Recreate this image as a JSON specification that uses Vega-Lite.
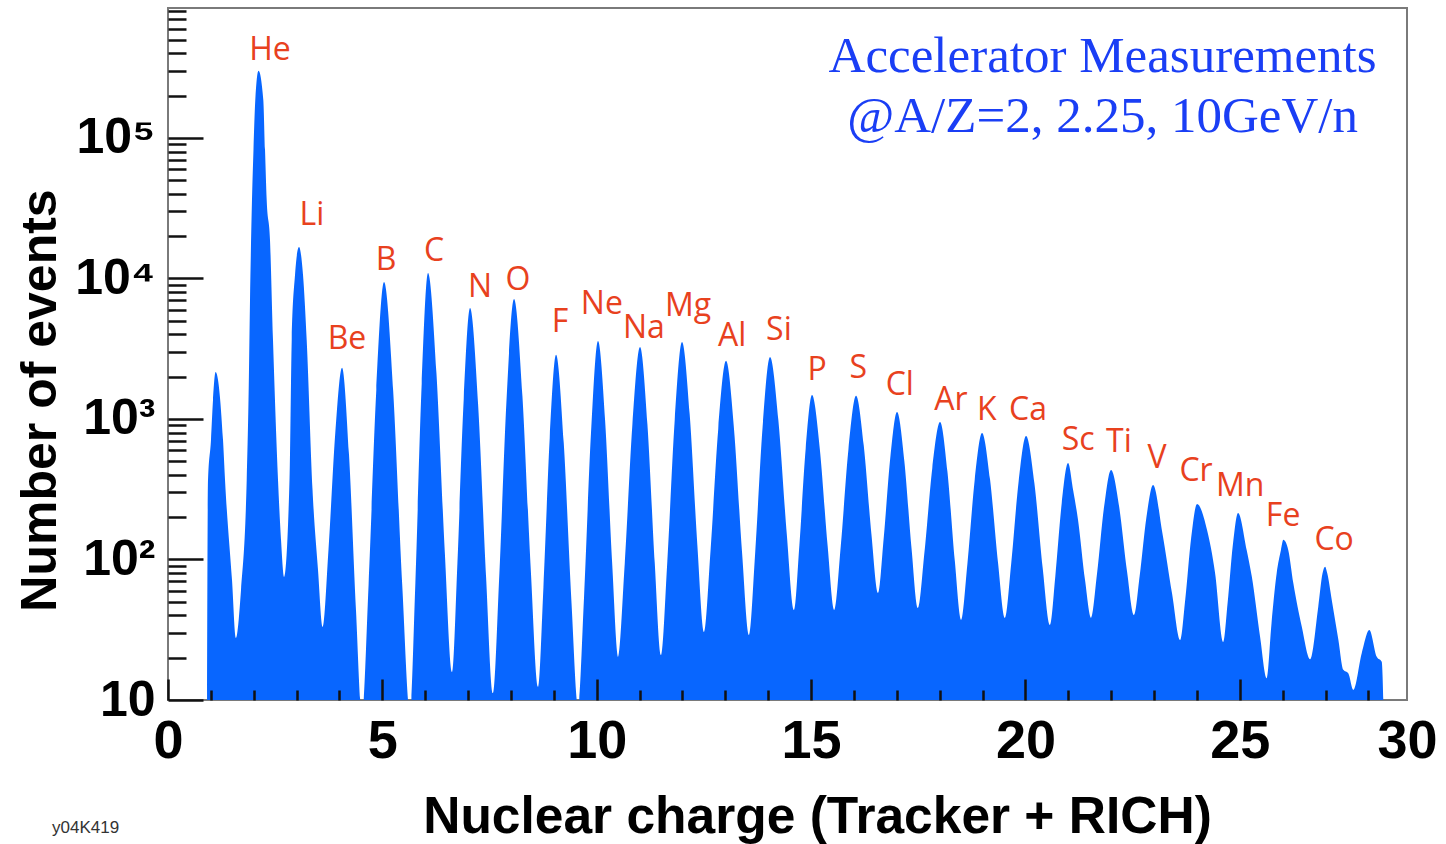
{
  "$schema": "https://vega.github.io/schema/vega-lite/v6.json",
  "width": 1239,
  "height": 692,
  "autosize": {"type": "none"},
  "padding": {"left": 168, "top": 8, "right": 39, "bottom": 144},
  "background": "white",
  "config": {"view": {"stroke": "#7a7a7a", "strokeWidth": 2}},
  "title": {"text": "y04K419", "orient": "bottom", "anchor": "start", "frame": "group", "font": "Liberation Sans", "fontSize": 17, "fontWeight": "normal", "color": "#333333", "dx": -116, "offset": -10, "baseline": "alphabetic"},
  "datasets": {
    "spectrum": [
      {"z": 0.905, "n": 2}, {"z": 0.933, "n": 368}, {"z": 1.003, "n": 710}, {"z": 1.05, "n": 1365}, {"z": 1.11, "n": 2160},
      {"z": 1.283, "n": 710}, {"z": 1.33, "n": 368}, {"z": 1.493, "n": 71.4}, {"z": 1.586, "n": 27.6},
      {"z": 1.703, "n": 60.7}, {"z": 1.836, "n": 368}, {"z": 1.878, "n": 1365}, {"z": 1.913, "n": 7030}, {"z": 1.959, "n": 36200},
      {"z": 1.994, "n": 82200}, {"z": 2.036, "n": 186000}, {"z": 2.111, "n": 300000}, {"z": 2.223, "n": 186000}, {"z": 2.263, "n": 82200},
      {"z": 2.302, "n": 36200}, {"z": 2.379, "n": 18800}, {"z": 2.449, "n": 3650}, {"z": 2.566, "n": 368}, {"z": 2.636, "n": 138}, {"z": 2.706, "n": 75},
      {"z": 2.834, "n": 368}, {"z": 2.886, "n": 3650}, {"z": 2.963, "n": 10600}, {"z": 3.056, "n": 16750}, {"z": 3.149, "n": 10600},
      {"z": 3.235, "n": 3650}, {"z": 3.371, "n": 313}, {"z": 3.499, "n": 84.2}, {"z": 3.609, "n": 33.1},
      {"z": 3.744, "n": 118}, {"z": 3.902, "n": 798}, {"z": 4.059, "n": 2310}, {"z": 4.222, "n": 558}, {"z": 4.385, "n": 43.5}, {"z": 4.525, "n": 7.9},
      {"z": 4.679, "n": 66.4}, {"z": 4.859, "n": 1607}, {"z": 5.039, "n": 9440}, {"z": 5.251, "n": 1607}, {"z": 5.463, "n": 66.4}, {"z": 5.645, "n": 7.9},
      {"z": 5.771, "n": 69.5}, {"z": 5.918, "n": 1795}, {"z": 6.065, "n": 10940}, {"z": 6.261, "n": 2133}, {"z": 6.457, "n": 112}, {"z": 6.625, "n": 15.8},
      {"z": 6.751, "n": 94.6}, {"z": 6.898, "n": 1387}, {"z": 7.045, "n": 6170}, {"z": 7.233, "n": 1274}, {"z": 7.42, "n": 74.5}, {"z": 7.581, "n": 11.2},
      {"z": 7.728, "n": 77.8}, {"z": 7.899, "n": 1422}, {"z": 8.071, "n": 7140}, {"z": 8.267, "n": 1459}, {"z": 8.463, "n": 83.4}, {"z": 8.631, "n": 12.4},
      {"z": 8.757, "n": 63.4}, {"z": 8.904, "n": 733}, {"z": 9.051, "n": 2860}, {"z": 9.231, "n": 675}, {"z": 9.41, "n": 50.4}, {"z": 9.564, "n": 8.9},
      {"z": 9.704, "n": 53.8}, {"z": 9.867, "n": 802}, {"z": 10.03, "n": 3590}, {"z": 10.195, "n": 984}, {"z": 10.359, "n": 95.7}, {"z": 10.5, "n": 20.2},
      {"z": 10.653, "n": 92.9}, {"z": 10.832, "n": 912}, {"z": 11.01, "n": 3250}, {"z": 11.182, "n": 920}, {"z": 11.353, "n": 95.1}, {"z": 11.5, "n": 20.9},
      {"z": 11.647, "n": 97.3}, {"z": 11.819, "n": 979}, {"z": 11.99, "n": 3530}, {"z": 12.169, "n": 1076}, {"z": 12.347, "n": 127}, {"z": 12.5, "n": 30.5},
      {"z": 12.655, "n": 116}, {"z": 12.835, "n": 853}, {"z": 13.016, "n": 2590}, {"z": 13.203, "n": 841}, {"z": 13.39, "n": 112}, {"z": 13.55, "n": 29},
      {"z": 13.698, "n": 114}, {"z": 13.87, "n": 883}, {"z": 14.042, "n": 2760}, {"z": 14.237, "n": 979}, {"z": 14.433, "n": 152}, {"z": 14.6, "n": 43.7},
      {"z": 14.727, "n": 126}, {"z": 14.874, "n": 614}, {"z": 15.022, "n": 1480}, {"z": 15.203, "n": 614}, {"z": 15.385, "n": 126}, {"z": 15.54, "n": 43.7},
      {"z": 15.693, "n": 125}, {"z": 15.871, "n": 607}, {"z": 16.049, "n": 1460}, {"z": 16.228, "n": 650}, {"z": 16.407, "n": 152}, {"z": 16.56, "n": 57.8},
      {"z": 16.693, "n": 141}, {"z": 16.849, "n": 535}, {"z": 17.005, "n": 1122}, {"z": 17.175, "n": 502}, {"z": 17.345, "n": 118}, {"z": 17.49, "n": 45.2},
      {"z": 17.645, "n": 113}, {"z": 17.827, "n": 445}, {"z": 18.008, "n": 953}, {"z": 18.18, "n": 423}, {"z": 18.352, "n": 98.2}, {"z": 18.5, "n": 37.1},
      {"z": 18.646, "n": 92.9}, {"z": 18.817, "n": 369}, {"z": 18.988, "n": 794}, {"z": 19.174, "n": 372}, {"z": 19.36, "n": 95.3}, {"z": 19.52, "n": 38.4},
      {"z": 19.668, "n": 93.8}, {"z": 19.841, "n": 359}, {"z": 20.014, "n": 757}, {"z": 20.209, "n": 349}, {"z": 20.403, "n": 86.5}, {"z": 20.57, "n": 34.2},
      {"z": 20.697, "n": 75.9}, {"z": 20.846, "n": 251}, {"z": 20.994, "n": 486}, {"z": 21.111, "n": 313}, {"z": 21.227, "n": 191}, {"z": 21.39, "n": 71.4}, {"z": 21.53, "n": 38.4},
      {"z": 21.67, "n": 79.4}, {"z": 21.834, "n": 237}, {"z": 21.997, "n": 434}, {"z": 22.184, "n": 239}, {"z": 22.37, "n": 82.2}, {"z": 22.53, "n": 40.3},
      {"z": 22.664, "n": 76.2}, {"z": 22.821, "n": 199}, {"z": 22.977, "n": 339}, {"z": 23.199, "n": 151}, {"z": 23.42, "n": 57.3}, {"z": 23.61, "n": 26.7},
      {"z": 23.728, "n": 52.1}, {"z": 23.865, "n": 142}, {"z": 24.003, "n": 248}, {"z": 24.236, "n": 162}, {"z": 24.423, "n": 80.2}, {"z": 24.61, "n": 25.9},
      {"z": 24.715, "n": 48.8}, {"z": 24.837, "n": 126}, {"z": 24.959, "n": 214}, {"z": 25.16, "n": 117}, {"z": 25.28, "n": 75.5}, {"z": 25.473, "n": 28.2}, {"z": 25.629, "n": 14.3},
      {"z": 25.74, "n": 35.2}, {"z": 25.86, "n": 79.8}, {"z": 25.96, "n": 117}, {"z": 26.016, "n": 138}, {"z": 26.13, "n": 117}, {"z": 26.249, "n": 67.8}, {"z": 26.445, "n": 33.3}, {"z": 26.639, "n": 19.5},
      {"z": 26.83, "n": 46.1}, {"z": 26.93, "n": 79.8}, {"z": 26.989, "n": 88.9}, {"z": 27.04, "n": 79.8}, {"z": 27.145, "n": 51.5}, {"z": 27.3, "n": 26.7}, {"z": 27.415, "n": 16.4}, {"z": 27.53, "n": 15.5}, {"z": 27.648, "n": 11.8},
      {"z": 27.844, "n": 21.5}, {"z": 28.022, "n": 31.5}, {"z": 28.195, "n": 20.3}, {"z": 28.31, "n": 18.7}, {"z": 28.39, "n": 2}
    ],
    "labels": [
      {"el": "He", "z": 2.379, "n": 423000}, {"el": "Li", "z": 3.359, "n": 28300}, {"el": "Be", "z": 4.175, "n": 3710},
      {"el": "B", "z": 5.085, "n": 13550}, {"el": "C", "z": 6.205, "n": 15700}, {"el": "N", "z": 7.278, "n": 8710},
      {"el": "O", "z": 8.164, "n": 9750}, {"el": "F", "z": 9.144, "n": 4900}, {"el": "Ne", "z": 10.12, "n": 6590},
      {"el": "Na", "z": 11.1, "n": 4450}, {"el": "Mg", "z": 12.13, "n": 6370}, {"el": "Al", "z": 13.16, "n": 3900},
      {"el": "Si", "z": 14.25, "n": 4300}, {"el": "P", "z": 15.14, "n": 2230}, {"el": "S", "z": 16.1, "n": 2310},
      {"el": "Cl", "z": 17.07, "n": 1750}, {"el": "Ar", "z": 18.26, "n": 1365}, {"el": "K", "z": 19.1, "n": 1160},
      {"el": "Ca", "z": 20.06, "n": 1160}, {"el": "Sc", "z": 21.23, "n": 710}, {"el": "Ti", "z": 22.18, "n": 686},
      {"el": "V", "z": 23.07, "n": 527}, {"el": "Cr", "z": 23.98, "n": 427}, {"el": "Mn", "z": 25.01, "n": 333},
      {"el": "Fe", "z": 26.01, "n": 204}, {"el": "Co", "z": 27.2, "n": 138}
    ]
  },
  "layer": [
    {
      "data": {"name": "spectrum"},
      "mark": {"type": "area", "interpolate": "monotone", "color": "#0866ff", "clip": true},
      "encoding": {
        "x": {
          "field": "z", "type": "quantitative",
          "scale": {"domain": [0, 28.9], "nice": false, "zero": false},
          "axis": {
            "title": "Nuclear charge (Tracker + RICH)",
            "titleFont": "Liberation Sans", "titleFontSize": 51.5, "titleFontWeight": "bold", "titleColor": "black",
            "titleX": 649, "titleY": 132, "titleBaseline": "alphabetic", "titleAlign": "center",
            "values": [0,1,2,3,4,5,6,7,8,9,10,11,12,13,14,15,16,17,18,19,20,21,22,23,24,25,26,27,28,28.9],
            "labelExpr": "datum.value > 28.5 ? '30' : (datum.value % 5 === 0 ? datum.label : '')",
            "labelFont": "Liberation Sans", "labelFontSize": 54, "labelFontWeight": "bold", "labelColor": "black",
            "labelBaseline": "alphabetic", "labelPadding": 78, "labelFlush": false, "labelOverlap": false, "labelBound": false,
            "domain": false, "grid": false, "zindex": 1,
            "tickColor": "#111111", "tickWidth": 2.5,
            "tickSize": {"condition": {"test": "datum.value % 5 === 0 || datum.value > 28.5", "value": -21}, "value": -10},
            "tickOpacity": {"condition": {"test": "datum.value > 28.5", "value": 0}, "value": 1}
          }
        },
        "y": {
          "field": "n", "type": "quantitative",
          "scale": {"type": "log", "domain": [10, 840000], "nice": false},
          "axis": {
            "title": "Number of events",
            "titleFont": "Liberation Sans", "titleFontSize": 50, "titleFontWeight": "bold", "titleColor": "black",
            "titleX": -113, "titleY": 392, "titleBaseline": "alphabetic", "titleAlign": "center", "titleAngle": -90,
            "values": [10,20,30,40,50,60,70,80,90,100,200,300,400,500,600,700,800,900,1000,2000,3000,4000,5000,6000,7000,8000,9000,10000,20000,30000,40000,50000,60000,70000,80000,90000,100000,200000,300000,400000,500000,600000,700000,800000],
            "labelExpr": "datum.value === 10 ? '10' : datum.value === 100 ? '10\u00b2' : datum.value === 1000 ? '10\u00b3' : datum.value === 10000 ? '10\u2074' : datum.value === 100000 ? '10\u2075' : ''",
            "labelFont": "Liberation Sans", "labelFontSize": 50, "labelFontWeight": "bold", "labelColor": "black",
            "labelPadding": 48, "labelBaseline": "middle", "labelAlign": "right", "labelOverlap": false, "labelBound": false, "labelFlush": false,
            "domain": false, "grid": false, "zindex": 1,
            "tickColor": "#111111", "tickWidth": 2.5,
            "tickSize": {"condition": {"test": "indexof([10,100,1000,10000,100000], datum.value) >= 0", "value": -35}, "value": -18}
          }
        },
        "y2": {"datum": 1}
      }
    },
    {
      "data": {"name": "labels"},
      "mark": {"type": "text", "font": "Open Sans", "fontSize": 32, "color": "#e8411e", "align": "center", "baseline": "middle"},
      "encoding": {
        "x": {"field": "z", "type": "quantitative"},
        "y": {"field": "n", "type": "quantitative"},
        "text": {"field": "el"}
      }
    },
    {
      "data": {"values": [{}]},
      "mark": {"type": "text", "font": "Liberation Serif", "fontSize": 51, "color": "#1a3ef5", "align": "center", "baseline": "alphabetic", "lineHeight": 60, "text": ["Accelerator Measurements", "@A/Z=2, 2.25, 10GeV/n"]},
      "encoding": {
        "x": {"datum": 21.8, "type": "quantitative"},
        "y": {"datum": 295000, "type": "quantitative"}
      }
    }
  ]
}
